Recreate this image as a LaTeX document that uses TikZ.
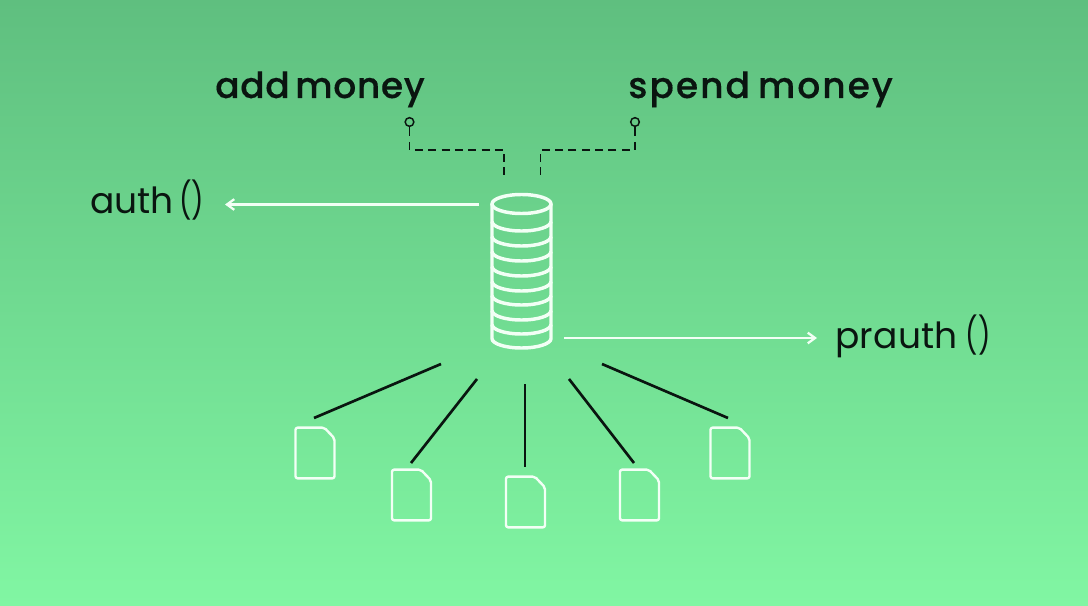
\documentclass[tikz,border=0pt]{standalone}
\usepackage{fontspec}
\setmainfont{Poppins}[WordSpace=0.6]
\newfontfamily\prfont{Poppins}[WordSpace=0.8,LetterSpace=0.8]
\newfontfamily\addfont{Poppins Medium}[WordSpace=0.55,LetterSpace=1.8,FakeBold=0.25]
\newfontfamily\spendfont{Poppins Medium}[WordSpace=0.7,LetterSpace=5.6,FakeBold=0.25]
\usetikzlibrary{arrows.meta}
\definecolor{topg}{HTML}{5FBF7F}
\definecolor{botg}{HTML}{81F6A3}
\definecolor{ink}{HTML}{0A1510}
\definecolor{paper}{HTML}{F2FFF5}
\newcommand{\parens}{\scalebox{0.76}[1]{()}}
\tikzset{
  x=0.75pt,y=-0.75pt,
  labelbase/.style={inner sep=0pt,anchor=base west,text=ink},
  addlabel/.style={labelbase,font=\fontsize{27}{30}\addfont},
  spendlabel/.style={labelbase,font=\fontsize{27}{30}\spendfont},
  plainlabel/.style={labelbase,font=\fontsize{27}{30}\selectfont},
  prlabel/.style={labelbase,font=\fontsize{27}{30}\prfont},
  dashline/.style={draw=ink,line width=1.1pt,dash pattern=on 6pt off 4pt},
  pinline/.style={draw=ink,line width=1.1pt},
  pinhead/.style={circle,draw=ink,line width=1.1pt,minimum size=6.5pt,inner sep=0pt},
  whitearrow/.style={draw=paper,line width=1.7pt,-{Straight Barb[length=5.5pt,width=8pt]}},
  rayline/.style={draw=ink,line width=2pt},
  coinline/.style={draw=paper,line width=2.6pt},
  docline/.style={draw=paper,line width=1.8pt,line join=round,rounded corners=1.5pt},
}
\newcommand{\docicon}[1]{%
  \draw[docline] ([xshift=-14.6pt,yshift=-19pt]#1) -- ([xshift=-14.6pt,yshift=19pt]#1)
    -- ([xshift=7pt,yshift=19pt]#1) -- ([xshift=14.6pt,yshift=11pt]#1)
    -- ([xshift=14.6pt,yshift=-19pt]#1) -- cycle;}
\begin{document}
\begin{tikzpicture}
\useasboundingbox (0,0) rectangle (1088,606);
\shade[top color=topg,bottom color=botg] (0,0) rectangle (1088,606);

\node[addlabel] (add) at (215,98) {add money};
\node[spendlabel] (spend) at (628,98) {spend money};
\node[plainlabel] (auth) at (90,214) {auth \parens};
\node[prlabel] (prauth) at (835,348) {prauth \parens};

% pins and dashed links
\node[pinhead] (pinL) at (409.5,122) {};
\node[pinhead] (pinR) at (635,122) {};
\coordinate (dashL) at (504,175);
\coordinate (dashR) at (540.5,175);
\coordinate (cornerLa) at (409.5,150);
\coordinate (cornerLb) at (504,150);
\coordinate (cornerRa) at (635,150);
\coordinate (cornerRb) at (540.5,150);
\coordinate (pinLe) at (409.5,136);
\coordinate (pinRe) at (635,136);
\draw[pinline] (pinL) -- (pinLe);
\draw[pinline] (pinR) -- (pinRe);
\draw[dashline] (pinLe) ++(0,6) -- (cornerLa) -- (cornerLb) -- (dashL);
\draw[dashline] (pinRe) ++(0,6) -- (cornerRa) -- (cornerRb) -- (dashR);

% coin stack
\draw[coinline] (521.5,204) ellipse [x radius=29.5,y radius=9.5];
\foreach \yy in {231,246,261,276,291,305,320,334}{
  \draw[coinline] (492,\yy-9.5) arc[start angle=180,delta angle=-180,x radius=29.5,y radius=9.5];
}
\draw[coinline] (492,204) -- (492,338.5) arc[start angle=180,delta angle=-180,x radius=29.5,y radius=9.5] -- (551,204);
\node[inner sep=0pt,minimum width=45pt,minimum height=117pt] (coins) at (521.5,271) {};

% arrows
\coordinate (authS) at (479,204.5);
\coordinate (authE) at (225,204.5);
\coordinate (prS) at (564,338);
\coordinate (prE) at (817,338);
\draw[whitearrow] (authS) -- (authE);
\draw[whitearrow] (prS) -- (prE);

% documents
\coordinate (d1) at (315,453);
\coordinate (d2) at (411.5,495);
\coordinate (d3) at (525.5,502);
\coordinate (d4) at (639.5,495);
\coordinate (d5) at (730,453);
\docicon{d1}\docicon{d2}\docicon{d3}\docicon{d4}\docicon{d5}

% rays
\coordinate (r1a) at (441,364); \coordinate (r1b) at (314,418);
\coordinate (r2a) at (477,379); \coordinate (r2b) at (411,463);
\coordinate (r3a) at (525,384); \coordinate (r3b) at (525,467);
\coordinate (r4a) at (569,379); \coordinate (r4b) at (634,463);
\coordinate (r5a) at (602,364); \coordinate (r5b) at (728,418);
\draw[rayline] (r1a) -- (r1b);
\draw[rayline] (r2a) -- (r2b);
\draw[rayline] (r3a) -- (r3b);
\draw[rayline] (r4a) -- (r4b);
\draw[rayline] (r5a) -- (r5b);
\end{tikzpicture}
\end{document}
